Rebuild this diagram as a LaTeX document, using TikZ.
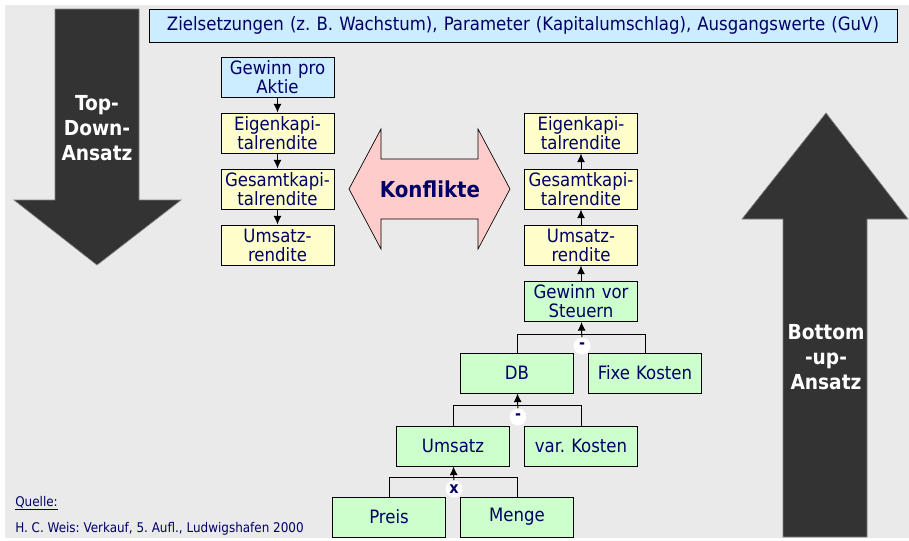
\documentclass[tikz,border=0pt]{standalone}
\usepackage{fontspec}
\setmainfont{DejaVu Sans Condensed}
\usepackage{xcolor}
\usetikzlibrary{arrows,arrows.meta}
\definecolor{navy}{RGB}{0,0,102}
\definecolor{hgrau}{RGB}{234,234,234}
\definecolor{dunkel}{RGB}{51,51,51}
\definecolor{hblau}{RGB}{204,236,255}
\definecolor{hgelb}{RGB}{255,255,204}
\definecolor{hgruen}{RGB}{204,255,204}
\definecolor{hrosa}{RGB}{255,204,204}
\frenchspacing
\tikzset{
    mybox/.style={rectangle, draw=black, fill=hgelb, line width=0.75pt, minimum width=84.75pt, minimum height=30pt, inner sep=0pt, text width=84pt, align=center, text=navy, font=\fontsize{13.8}{14.25}\selectfont},
    myarrow/.style={-{Latex[length=6.5pt,width=6pt]}, line width=0.75pt},
    myop/.style={circle, fill=white, minimum size=12.75pt, inner sep=0pt, text=navy, font=\bfseries\fontsize{12}{12}\selectfont},
    mybig/.style={fill=dunkel, draw=gray, line width=0.5pt},
    mylabel/.style={text=white, align=center, font=\bfseries\fontsize{15.5}{19}\selectfont}
}

\begin{document}
\begin{tikzpicture}[x=0.75pt,y=-0.75pt]
    \useasboundingbox (0,0) rectangle (909,540);
    \fill[white] (0,0) rectangle (909,540);
    \fill[hgrau] (5,5) rectangle (909,538);
    % grosse Pfeile
    \draw[mybig] (55,9) -- (139,9) -- (139,200) -- (181,200) -- (97,265) -- (14,200) -- (55,200) -- cycle;
    \draw[mybig] (783,537) -- (867,537) -- (867,219) -- (908,219) -- (826,113) -- (742,219) -- (783,219) -- cycle;
    \draw[fill=hrosa, draw=black, line width=0.5pt] (349,189) -- (381,129) -- (381,159) -- (478,159) -- (478,129) -- (510,189) -- (478,249) -- (478,219) -- (381,219) -- (381,249) -- cycle;
    \draw (97,128) node[mylabel] (topdown) {Top-\\Down-\\Ansatz};
    \draw (826,357) node[mylabel] (bottomup) {Bottom\\-up-\\Ansatz};
    \draw (430,189) node[text=navy, font=\bfseries\fontsize{16.5}{20}\selectfont] (konflikt) {Konflikte};
    \draw (523,25.5) node[mybox, fill=hblau, minimum width=561pt, minimum height=24.75pt, text width=555pt] (ziel) {Zielsetzungen (z. B. Wachstum), Parameter (Kapitalumschlag), Ausgangswerte (GuV)};
    % Top-Down
    \draw (277.5,77) node[mybox, fill=hblau] (gpa) {Gewinn pro\\Aktie};
    \draw (277.5,133) node[mybox] (ekl) {Eigenkapi-\\talrendite};
    \draw (277.5,189) node[mybox] (gkl) {Gesamtkapi-\\talrendite};
    \draw (277.5,245) node[mybox] (url) {Umsatz-\\rendite};
    \draw[myarrow] (gpa) -- (ekl);
    \draw[myarrow] (ekl) -- (gkl);
    \draw[myarrow] (gkl) -- (url);
    % Bottom-Up
    \draw (581,133) node[mybox] (ekr) {Eigenkapi-\\talrendite};
    \draw (581,189) node[mybox] (gkr) {Gesamtkapi-\\talrendite};
    \draw (581,245) node[mybox] (urr) {Umsatz-\\rendite};
    \draw (581,301.5) node[mybox, fill=hgruen] (gvs) {Gewinn vor\\Steuern};
    \draw (517,373) node[mybox, fill=hgruen] (db) {DB};
    \draw (645,373) node[mybox, fill=hgruen] (fk) {Fixe Kosten};
    \draw (453,446) node[mybox, fill=hgruen] (ums) {Umsatz};
    \draw (581,446) node[mybox, fill=hgruen] (vk) {var. Kosten};
    \draw (389,517) node[mybox, fill=hgruen] (preis) {Preis};
    \draw (517,517) node[mybox, fill=hgruen] (menge) {Menge};
    \draw[myarrow] (urr) -- (gkr);
    \draw[myarrow] (gkr) -- (ekr);
    \draw[myarrow] (gvs) -- (urr);
    \draw (582,346) coordinate (c1);
    \draw (518,417) coordinate (c2);
    \draw (454,489) coordinate (c3);
    \draw[line width=0.75pt] (db.north) |- ([yshift=8.5]c1) -| (fk.north);
    \draw[line width=0.75pt] (ums.north) |- ([yshift=8.5]c2) -| (vk.north);
    \draw[line width=0.75pt] (preis.north) |- ([yshift=8.5]c3) -| (menge.north);
    \draw (c1) node[myop] (op1) {-};
    \draw (c2) node[myop] (op2) {-};
    \draw (c3) node[myop] (op3) {x};
    \draw[myarrow] (op1) -- (gvs);
    \draw[myarrow] (op2) -- (db);
    \draw[myarrow] (op3) -- (ums);
    % Quelle
    \draw (15,506) node[anchor=base west, inner sep=0pt, text=navy, font=\fontsize{10}{12}\selectfont] (quelle) {\underline{Quelle:}};
    \draw (15,532) node[anchor=base west, inner sep=0pt, text=navy, font=\fontsize{10}{12}\selectfont] (lit) {H. C. Weis: Verkauf, 5. Aufl., Ludwigshafen 2000};
\end{tikzpicture}
\end{document}
